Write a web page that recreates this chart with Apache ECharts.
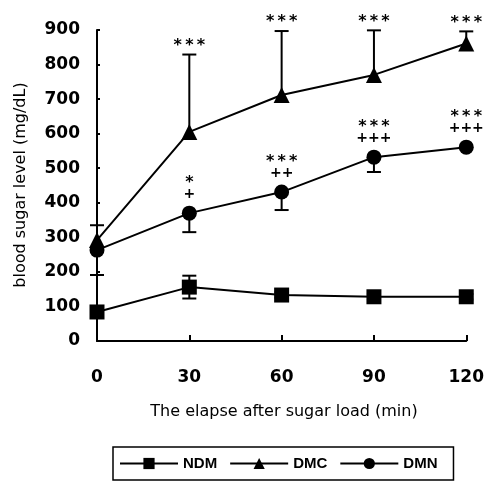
<!DOCTYPE html>
<html><head><meta charset="utf-8">
<script src="https://cdn.jsdelivr.net/npm/echarts@6/dist/echarts.min.js"></script>
<style>html,body{margin:0;padding:0;background:#fff}#c{width:487px;height:484px}</style>
</head><body><div id="c"></div>
<script>
const times = [0, 30, 60, 90, 120];
const xTicks = [0, 30, 60, 90, 120];
const yTicks = [0, 100, 200, 300, 400, 500, 600, 700, 800, 900];
const ndm = [84, 156, 133, 128, 128];
const ndmErr = [8, 33, 8, 8, 8];
const dmc = [292, 605, 712, 770, 861];
const dmcErrUp = [43, 224, 185, 129, 35];
const dmn = [263, 370, 431, 532, 561];
const dmnErrDown = [72, 55, 52, 43, 0];
const dmcStars = ['', '***', '***', '***', '***'];
const dmnStars = ['', '*', '***', '***', '***'];
const dmnPlus = ['', '+', '++', '+++', '+++'];
const seriesNames = ['NDM', 'DMC', 'DMN'];
const yTitle = 'blood sugar level (mg/dL)';
const xTitle = 'The elapse after sugar load (min)';

const DV = '"DejaVu Sans", sans-serif';
const LS = '"Liberation Sans", Arial, sans-serif';
const chart = echarts.init(document.getElementById('c'));

function errSeries(vals, ups, downs) {
  return {
    type: 'custom',
    silent: true,
    z: 1,
    data: times.map((t, i) => [t, vals[i], ups[i], downs[i]]),
    renderItem: function (params, api) {
      const x = api.value(0), v = api.value(1), u = api.value(2), d = api.value(3);
      const top = api.coord([x, v + u]);
      const bot = api.coord([x, v - d]);
      const cw = 7;
      const children = [{
        type: 'line', shape: {x1: top[0], y1: top[1], x2: bot[0], y2: bot[1]},
        style: {stroke: '#000', lineWidth: 2}
      }];
      if (u > 0) children.push({type: 'line', shape: {x1: top[0]-cw, y1: top[1], x2: top[0]+cw, y2: top[1]}, style: {stroke: '#000', lineWidth: 2}});
      if (d > 0) children.push({type: 'line', shape: {x1: bot[0]-cw, y1: bot[1], x2: bot[0]+cw, y2: bot[1]}, style: {stroke: '#000', lineWidth: 2}});
      return {type: 'group', children: children};
    }
  };
}

function textSeries(vals, texts) {
  return {
    type: 'custom',
    silent: true,
    z: 5,
    data: times.map((t, i) => [t, vals[i]]),
    renderItem: function (params, api) {
      const i = params.dataIndex;
      const p = api.coord([api.value(0), api.value(1)]);
      const children = [];
      texts.forEach(function (tx) {
        const s = tx.arr[i];
        if (!s) return;
        children.push({
          type: 'text',
          style: {
            x: p[0], y: p[1] + tx.dy, text: s.split('').join(tx.sep || ''),
            fontFamily: DV, fontWeight: 'bold', fontSize: tx.size,
            fill: '#000', align: 'center', verticalAlign: 'middle'
          }
        });
      });
      return {type: 'group', children: children};
    }
  };
}

const dmcTop = dmc.map((v, i) => v + dmcErrUp[i]);

chart.setOption({
  animation: false,
  backgroundColor: '#fff',
  grid: {left: 97, right: 19, top: 30, bottom: 143, containLabel: false},
  xAxis: {
    type: 'value', min: 0, max: 120, interval: 30,
    axisLine: {lineStyle: {color: '#000', width: 2}},
    axisTick: {inside: true, length: 6, lineStyle: {color: '#000', width: 2}},
    axisLabel: {margin: 28, color: '#000', fontFamily: DV, fontWeight: 'bold', fontSize: 17,
      formatter: v => xTicks.includes(v) ? String(v) : ''},
    splitLine: {show: false}
  },
  yAxis: {
    type: 'value', min: 0, max: 900, interval: 100,
    axisLine: {show: true, lineStyle: {color: '#000', width: 2}},
    axisTick: {show: true, inside: true, length: 3, lineStyle: {color: '#000', width: 2}},
    axisLabel: {margin: 17, color: '#000', fontFamily: DV, fontWeight: 'bold', fontSize: 17,
      formatter: v => yTicks.includes(v) ? String(v) : ''},
    splitLine: {show: false}
  },
  legend: {
    data: seriesNames,
    left: 113, top: 447,
    padding: [9, 16, 9, 6],
    borderColor: '#000', borderWidth: 1.5,
    itemWidth: 58, itemHeight: 14, itemGap: 12,
    textStyle: {color: '#000', fontFamily: LS, fontWeight: 'bold', fontSize: 15}
  },
  graphic: [
    {type: 'text', x: 21, y: 185, rotation: Math.PI / 2,
      style: {text: yTitle, fontFamily: DV, fontSize: 16, fill: '#000', align: 'center', verticalAlign: 'middle'}},
    {type: 'text', x: 284, y: 412,
      style: {text: xTitle, fontFamily: DV, fontSize: 16, fill: '#000', align: 'center', verticalAlign: 'middle'}}
  ],
  series: [
    {name: 'NDM', type: 'line', data: times.map((t, i) => [t, ndm[i]]), symbol: 'rect', symbolSize: 15,
      itemStyle: {color: '#000'}, lineStyle: {color: '#000', width: 2}, z: 3},
    {name: 'DMC', type: 'line', data: times.map((t, i) => [t, dmc[i]]), symbol: 'triangle', symbolSize: 16,
      itemStyle: {color: '#000'}, lineStyle: {color: '#000', width: 2}, z: 3},
    {name: 'DMN', type: 'line', data: times.map((t, i) => [t, dmn[i]]), symbol: 'circle', symbolSize: 15,
      itemStyle: {color: '#000'}, lineStyle: {color: '#000', width: 2}, z: 3},
    errSeries(ndm, ndmErr, ndmErr),
    errSeries(dmc, dmcErrUp, times.map(() => 0)),
    errSeries(dmn, times.map(() => 0), dmnErrDown),
    textSeries(dmcTop, [{arr: dmcStars, dy: -9, size: 16, sep: '\u2009'}]),
    textSeries(dmn, [{arr: dmnStars, dy: -30, size: 16, sep: '\u2009'}, {arr: dmnPlus, dy: -19, size: 14}])
  ]
});
</script></body></html>
